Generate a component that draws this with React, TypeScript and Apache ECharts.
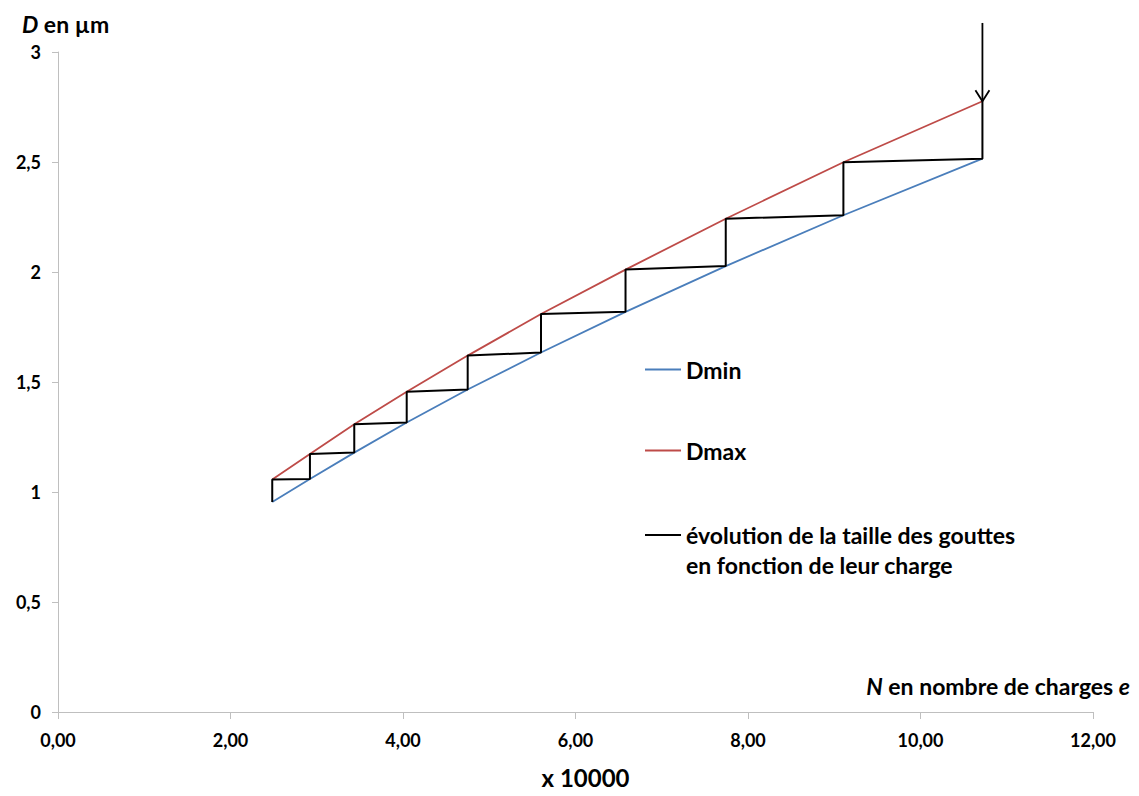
import React, { useEffect, useRef } from "react";
import * as echarts from "echarts";

// Step positions (N, in units of 10000 charges)
const stepN = [2.484, 2.921, 3.435, 4.043, 4.75, 5.6, 6.58, 7.742, 9.106, 10.718];
// Dmin (µm) at each step
const dMin = [0.955, 1.059, 1.179, 1.316, 1.466, 1.634, 1.819, 2.027, 2.258, 2.515];
// Dmax (µm) at each step
const dMax = [1.057, 1.173, 1.308, 1.456, 1.62, 1.809, 2.011, 2.242, 2.499, 2.776];
// Arrow: [N, D start, D end]
const arrow = [[10.718, 3.132, 2.776]];

const xTicks = [0, 2, 4, 6, 8, 10, 12];
const yTicks = [0, 0.5, 1, 1.5, 2, 2.5, 3];

const FONT = "Lato, 'Open Sans', sans-serif";

export default function App() {
  const ref = useRef<HTMLDivElement>(null);
  useEffect(() => {
    if (!ref.current) return;
    const chart = echarts.init(ref.current, undefined, { renderer: "svg" });
    const minData = stepN.map((n, i) => [n, dMin[i]]);
    const maxData = stepN.map((n, i) => [n, dMax[i]]);
    const stairs: number[][] = [];
    stepN.forEach((n, i) => {
      stairs.push([n, dMin[i]]);
      stairs.push([n, dMax[i]]);
    });
    const legendText = { fontFamily: FONT, fontWeight: "bold" as const, fontSize: 23, color: "#000" };
    const lineH = 30;
    const legendBase = {
      left: 645,
      padding: 0,
      orient: "vertical",
      icon: "rect",
      itemWidth: 36,
      itemHeight: 2,
      selectedMode: false,
    };
    chart.setOption({
      animation: false,
      backgroundColor: "#fff",
      textStyle: { fontFamily: FONT },
      grid: { left: 58, right: 46, top: 52, bottom: 84, containLabel: false, outerBoundsMode: "none" },
      xAxis: {
        type: "value",
        min: xTicks[0],
        max: xTicks[xTicks.length - 1],
        interval: 2,
        name: "x 10000",
        nameLocation: "middle",
        nameGap: 53,
        nameTextStyle: { fontFamily: FONT, fontWeight: "bold", fontSize: 24, color: "#000", padding: [0, 0, 0, 20] },
        axisLine: { onZero: false, lineStyle: { color: "#bfbfbf", width: 1 } },
        axisTick: { show: true, length: 7, lineStyle: { color: "#bfbfbf" } },
        splitLine: { show: false },
        axisLabel: {
          margin: 19,
          fontFamily: FONT,
          fontWeight: "bold",
          fontSize: 18,
          color: "#000",
          formatter: (v: number) => v.toFixed(2).replace(".", ","),
        },
      },
      yAxis: {
        type: "value",
        min: yTicks[0],
        max: yTicks[yTicks.length - 1],
        interval: 0.5,
        axisLine: { show: true, lineStyle: { color: "#bfbfbf", width: 1 } },
        axisTick: { show: true, length: 6, lineStyle: { color: "#bfbfbf" } },
        splitLine: { show: false },
        axisLabel: {
          margin: 17,
          fontFamily: FONT,
          fontWeight: "bold",
          fontSize: 18,
          color: "#000",
          formatter: (v: number) => String(v).replace(".", ","),
        },
      },
      legend: [
        { ...legendBase, top: 372 - 14, textStyle: legendText, data: ["Dmin"] },
        { ...legendBase, top: 453 - 14, textStyle: legendText, data: ["Dmax"] },
        {
          ...legendBase,
          top: 534 + 1 - 1.5 * lineH,
          textStyle: { ...legendText, lineHeight: lineH },
          formatter: () => "\névolution de la taille des gouttes\nen fonction de leur charge",
          data: ["évolution de la taille des gouttes en fonction de leur charge"],
        },
      ],
      graphic: [
        {
          type: "text",
          x: 22,
          y: 24,
          style: {
            text: "{i|D} en µm",
            fontFamily: FONT,
            fontWeight: "bold",
            fontSize: 23,
            fill: "#000",
            verticalAlign: "middle",
            rich: { i: { fontFamily: FONT, fontWeight: "bold", fontStyle: "italic", fontSize: 23, fill: "#000" } },
          },
        },
        {
          type: "text",
          x: 1130,
          y: 686,
          style: {
            text: "{i|N} en nombre de charges {i|e}",
            fontFamily: FONT,
            fontWeight: "bold",
            fontSize: 23,
            fill: "#000",
            align: "right",
            verticalAlign: "middle",
            rich: { i: { fontFamily: FONT, fontWeight: "bold", fontStyle: "italic", fontSize: 23, fill: "#000" } },
          },
        },
      ],
      series: [
        {
          name: "Dmin",
          type: "line",
          data: minData,
          showSymbol: false,
          symbol: "none",
          lineStyle: { color: "#4a7ebb", width: 1.8 },
          itemStyle: { color: "#4a7ebb" },
          z: 2,
        },
        {
          name: "Dmax",
          type: "line",
          data: maxData,
          showSymbol: false,
          symbol: "none",
          lineStyle: { color: "#be4b48", width: 1.8 },
          itemStyle: { color: "#be4b48" },
          z: 2,
        },
        {
          name: "évolution de la taille des gouttes en fonction de leur charge",
          type: "line",
          data: stairs,
          showSymbol: false,
          symbol: "none",
          lineStyle: { color: "#000", width: 2 },
          itemStyle: { color: "#000" },
          z: 3,
        },
        {
          name: "arrow",
          type: "custom",
          coordinateSystem: "cartesian2d",
          clip: false,
          silent: true,
          data: arrow,
          encode: { x: 0, y: 1 },
          renderItem: (_p: any, api: any) => {
            const x = api.value(0);
            const p1 = api.coord([x, api.value(1)]);
            const p2 = api.coord([x, api.value(2)]);
            return {
              type: "group",
              children: [
                {
                  type: "line",
                  shape: { x1: p1[0], y1: p1[1], x2: p2[0], y2: p2[1] },
                  style: { stroke: "#000", lineWidth: 1.8 },
                },
                {
                  type: "polyline",
                  shape: { points: [[p2[0] - 7, p2[1] - 11], [p2[0], p2[1]], [p2[0] + 7, p2[1] - 11]] },
                  style: { stroke: "#000", fill: "none", lineWidth: 1.8 },
                },
              ],
            };
          },
          z: 4,
        },
      ],
    });
    return () => chart.dispose();
  }, []);
  return (
    <div
      ref={ref}
      style={{ position: "fixed", left: 0, top: 0, width: 1139, height: 796, background: "#fff" }}
    />
  );
}
